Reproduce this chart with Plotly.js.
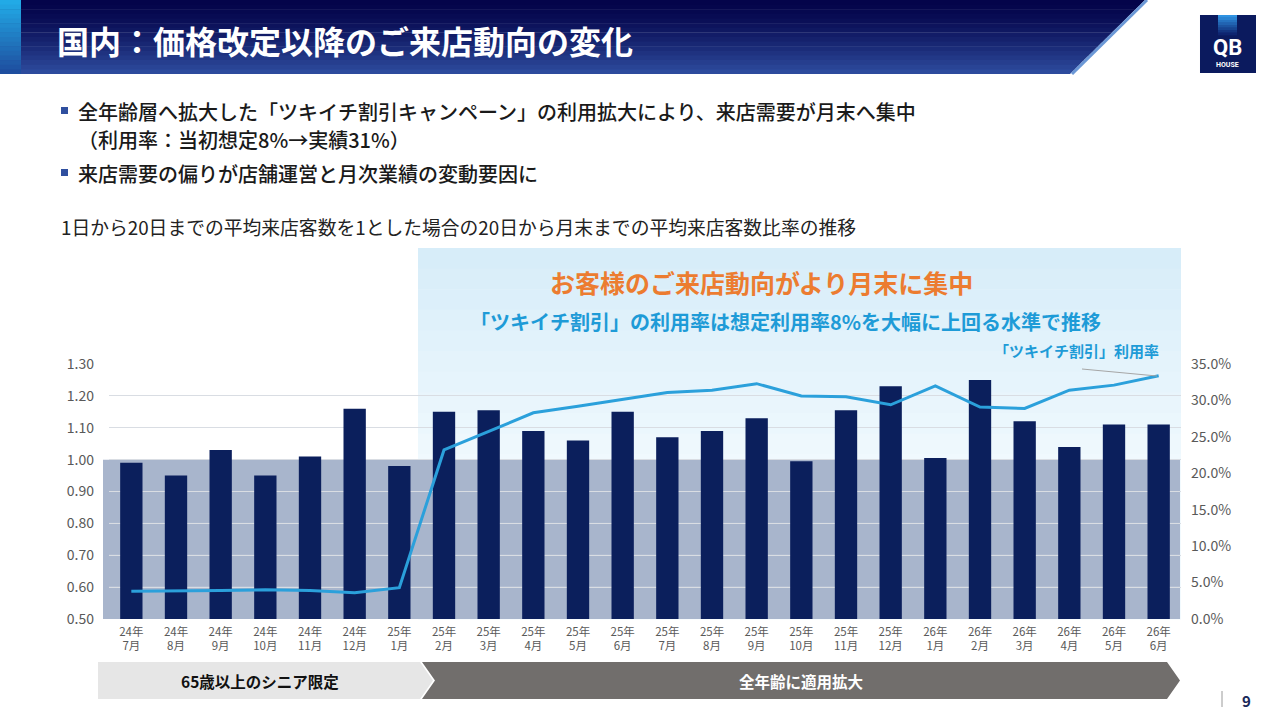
<!DOCTYPE html>
<html>
<head>
<meta charset="utf-8">
<script src="https://cdn.plot.ly/plotly-3.0.1.min.js"></script>
<style>html,body{margin:0;padding:0;background:#fff;}#chart{width:1280px;height:720px;}</style>
</head>
<body>
<div id="chart"></div>
<script>
// ---- data ----
const months = ["24年<br>7月","24年<br>8月","24年<br>9月","24年<br>10月","24年<br>11月","24年<br>12月",
  "25年<br>1月","25年<br>2月","25年<br>3月","25年<br>4月","25年<br>5月","25年<br>6月",
  "25年<br>7月","25年<br>8月","25年<br>9月","25年<br>10月","25年<br>11月","25年<br>12月",
  "26年<br>1月","26年<br>2月","26年<br>3月","26年<br>4月","26年<br>5月","26年<br>6月"];
const visitRatio = [0.99,0.95,1.03,0.95,1.01,1.16,0.98,1.15,1.155,1.09,1.06,1.15,1.07,1.09,1.13,0.995,1.155,1.23,1.005,1.25,1.12,1.04,1.11,1.11];
const usageRate = [3.8,3.8,3.9,4.0,3.9,3.6,4.3,23.2,25.7,28.3,29.2,30.2,31.1,31.4,32.3,30.6,30.5,29.4,32.0,29.1,28.9,31.4,32.1,33.4];
const leftTicks = [0.5,0.6,0.7,0.8,0.9,1.0,1.1,1.2,1.3];

const titleText = "国内：価格改定以降のご来店動向の変化";
const bullet1a = "全年齢層へ拡大した「ツキイチ割引キャンペーン」の利用拡大により、来店需要が月末へ集中";
const bullet1b = "（利用率：当初想定8%→実績31%）";
const bullet2 = "来店需要の偏りが店舗運営と月次業績の変動要因に";
const subTitle = "1日から20日までの平均来店客数を1とした場合の20日から月末までの平均来店客数比率の推移";
const headline = "お客様のご来店動向がより月末に集中";
const subHeadline = "「ツキイチ割引」の利用率は想定利用率8%を大幅に上回る水準で推移";
const lineLabel = "「ツキイチ割引」利用率";
const phase1 = "65歳以上のシニア限定";
const phase2 = "全年齢に適用拡大";

// ---- geometry helpers (pixel -> paper) ----
const W = 1280, H = 720, L = 109, R = 99, T = 364, B = 101;
const PW = W - L - R, PH = H - T - B;
const px = x => (x - L) / PW;
const py = y => (H - B - y) / PH;
const FONT = "Noto Sans CJK JP, Noto Sans, sans-serif";

function hex2rgb(h){h=h.replace('#','');return [parseInt(h.substr(0,2),16),parseInt(h.substr(2,2),16),parseInt(h.substr(4,2),16)];}
function mix(a,b,t){const A=hex2rgb(a),Bc=hex2rgb(b);return 'rgb('+A.map((v,i)=>Math.round(v+(Bc[i]-v)*t)).join(',')+')';}
function poly(pts, fill, layer){
  let d = pts.map((p,i)=>(i?'L':'M')+px(p[0]).toFixed(5)+','+py(p[1]).toFixed(5)).join(' ')+' Z';
  return {type:'path', xref:'paper', yref:'paper', path:d, fillcolor:fill, line:{width:0}, layer:layer||'above'};
}

const shapes = [];
// light blue highlight box (vertical gradient)
{
  const y0 = 248, y1 = 619, n = 18;
  for (let i=0;i<n;i++){
    const a = y0 + (y1-y0)*i/n, b = y0 + (y1-y0)*(i+1)/n + 0.6;
    shapes.push(poly([[418,a],[1181,a],[1181,b],[418,b]], mix('#d7edf9','#f2fafe', Math.min(1,i/(n*0.6))), 'below'));
  }
}
// grey-blue region below 1.00
shapes.push({type:'rect', xref:'paper', yref:'y', x0:px(103), x1:px(1180), y0:0.5, y1:1.0,
  fillcolor:'#a8b5cc', line:{width:0}, layer:'below'});
// lighter gridlines inside grey region
leftTicks.filter(v=>v>0.5 && v<1.0).forEach(v=>{
  shapes.push({type:'line', xref:'paper', yref:'y', x0:px(109), x1:px(1180), y0:v, y1:v,
    line:{color:'#c6cedc', width:1}, layer:'between'});
});
// header banner (vertical gradient, slanted right edge)
{
  const n = 16, top = 0, bot = 74;
  const xr = y => 1145 - (y/74)*75;
  for (let i=0;i<n;i++){
    const a = top + (bot-top)*i/n, b = top + (bot-top)*(i+1)/n + 0.5;
    const t = Math.pow(i/(n-1), 1.4);
    shapes.push(poly([[0,a],[xr(a),a],[xr(Math.min(b,74)),Math.min(b,74)],[0,Math.min(b,74)]], mix('#04044a','#2d4b9d', t)));
  }
  // left accent strip
  for (let i=0;i<n;i++){
    const a = top + (bot-top)*i/n, b = top + (bot-top)*(i+1)/n + 0.5;
    shapes.push(poly([[0,a],[21,a],[21,Math.min(b,74)],[0,Math.min(b,74)]], mix('#22aae6','#1e4e9f', i/(n-1))));
  }
  // slanted light edge
  shapes.push({type:'line', xref:'paper', yref:'paper', x0:px(1147), y0:py(0), x1:px(1072), y1:py(74),
    line:{color:'#6b98d6', width:3}});
}
// logo
shapes.push(poly([[1200,15],[1256,15],[1256,73],[1200,73]], '#0b1a5e'));
for (let i=0;i<8;i++){
  const a = 15 + 20*i/8, b = 15 + 20*(i+1)/8 + 0.4;
  shapes.push(poly([[1218,a],[1237,a],[1237,b],[1218,b]], mix('#2f93e2','#0e2470', i/7)));
}
// bullet squares
shapes.push(poly([[61,107],[68,107],[68,114],[61,114]], '#2f4f9f'));
shapes.push(poly([[61,169],[68,169],[68,176],[61,176]], '#2f4f9f'));
// leader line for line label
shapes.push({type:'line', xref:'paper', yref:'paper', x0:px(1082), y0:py(369), x1:px(1157), y1:py(376),
  line:{color:'#a6a6a6', width:1}});
// bottom phase arrows
shapes.push(poly([[98,662],[420,662],[433,680.5],[420,699],[98,699]], '#e6e6e6'));
shapes.push(poly([[422,662],[1167,662],[1180,680.5],[1167,699],[422,699],[435,680.5]], '#716e6c'));
// page number divider
shapes.push({type:'line', xref:'paper', yref:'paper', x0:px(1222), y0:py(691), x1:px(1222), y1:py(707),
  line:{color:'#9a9a9a', width:1}});

function ann(text, x, y, size, color, opts){
  return Object.assign({text:text, xref:'paper', yref:'paper', x:px(x), y:py(y), showarrow:false,
    xanchor:'left', yanchor:'middle', font:{family:FONT, size:size, color:color}}, opts||{});
}
const annotations = [
  ann(titleText, 55, 40, 32, '#ffffff', {font:{family:FONT, size:32, color:'#ffffff', weight:700}}),
  ann('QB', 1228, 47, 22, '#ffffff', {xanchor:'center', font:{family:'Roboto, Noto Sans, sans-serif', size:22, color:'#ffffff', weight:700}}),
  ann('HOUSE', 1228, 65, 7, '#ffffff', {xanchor:'center', font:{family:'Roboto, Noto Sans, sans-serif', size:7, color:'#ffffff', weight:700}}),
  ann(bullet1a, 76, 111, 20, '#1a1a1a', {font:{family:FONT, size:20, color:'#1a1a1a', weight:500}}),
  ann(bullet1b, 76, 139, 20, '#1a1a1a', {font:{family:FONT, size:20, color:'#1a1a1a', weight:500}}),
  ann(bullet2, 76, 173, 20, '#1a1a1a', {font:{family:FONT, size:20, color:'#1a1a1a', weight:500}}),
  ann(subTitle, 59, 227, 18.8, '#222222'),
  ann(headline, 761, 282, 25, '#ec7c30', {xanchor:'center', font:{family:FONT, size:25, color:'#ec7c30', weight:700}}),
  ann(subHeadline, 785, 321, 20, '#1e9bd7', {xanchor:'center', font:{family:FONT, size:20, color:'#1e9bd7', weight:700}}),
  ann(lineLabel, 1076, 350, 15, '#1e9bd7', {xanchor:'center', font:{family:FONT, size:15, color:'#1e9bd7', weight:700}}),
  ann(phase1, 260, 681, 15.5, '#111111', {xanchor:'center', font:{family:FONT, size:15.5, color:'#111111', weight:700}}),
  ann(phase2, 801, 681, 15.5, '#ffffff', {xanchor:'center', font:{family:FONT, size:15.5, color:'#ffffff', weight:700}}),
  ann('9', 1246, 700, 15, '#1a2a5a', {xanchor:'center', font:{family:FONT, size:15, color:'#1a2a5a', weight:700}})
];

const traces = [
  {type:'bar', x:months, y:visitRatio, yaxis:'y', marker:{color:'#0b1f5c'}, hoverinfo:'skip', name:'来店客数比率'},
  {type:'scatter', mode:'lines', x:months, y:usageRate, yaxis:'y2', line:{color:'#2ba0db', width:3}, hoverinfo:'skip', name:lineLabel}
];

const layout = {
  width:W, height:H, margin:{l:L, r:R, t:T, b:B, pad:0},
  paper_bgcolor:'rgba(0,0,0,0)', plot_bgcolor:'rgba(0,0,0,0)',
  showlegend:false, bargap:0.5,
  font:{family:FONT, color:'#595959'},
  xaxis:{type:'category', showgrid:false, zeroline:false, showline:false, ticks:'',
    tickfont:{family:FONT, size:11.5, color:'#595959'}, ticklabelstandoff:4, fixedrange:true},
  yaxis:{range:[0.5,1.3], tickvals:leftTicks, tickformat:'.2f', showgrid:true, gridcolor:'#d9dde3', gridwidth:1,
    zeroline:false, showline:false, ticks:'', tickfont:{family:FONT, size:14, color:'#595959'}, ticklabelstandoff:14, fixedrange:true},
  yaxis2:{overlaying:'y', side:'right', range:[0,35], dtick:5, tickformat:'.1f', ticksuffix:'%', showgrid:false,
    zeroline:false, showline:false, ticks:'', tickfont:{family:FONT, size:14, color:'#595959'}, ticklabelstandoff:9, fixedrange:true},
  shapes:shapes, annotations:annotations
};
Plotly.newPlot('chart', traces, layout, {staticPlot:true, displayModeBar:false});
</script>
</body>
</html>
